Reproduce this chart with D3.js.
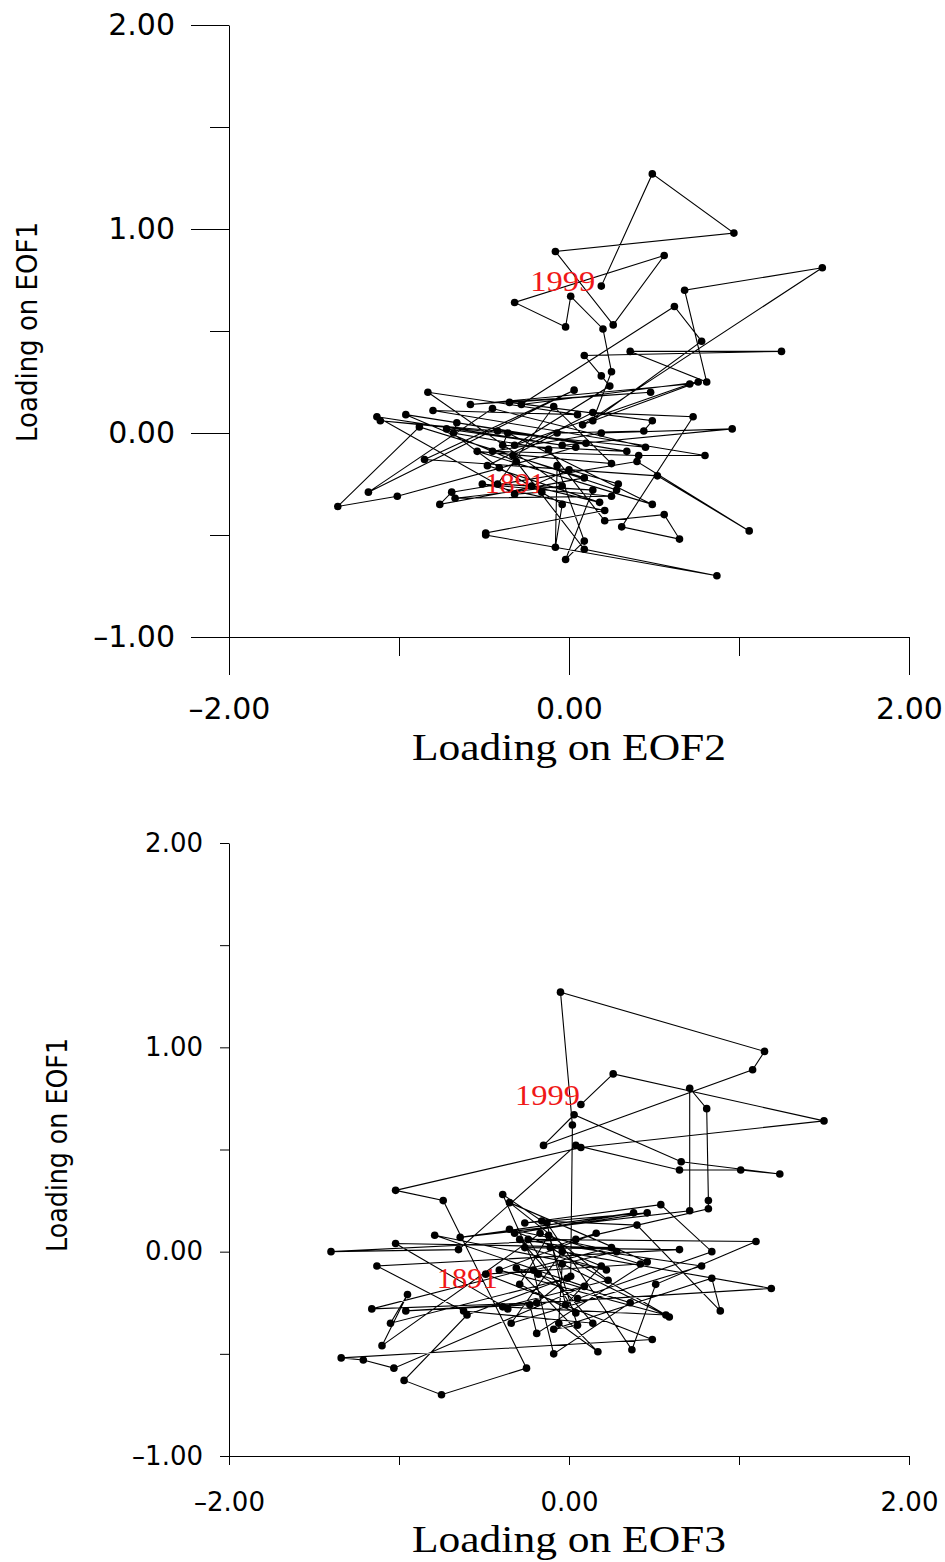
<!DOCTYPE html>
<html>
<head>
<meta charset="utf-8">
<script src="https://cdn.jsdelivr.net/npm/d3@7"></script>
<style>
  html, body { margin: 0; padding: 0; background: #fff; }
  svg { display: block; }
</style>
</head>
<body>
<svg id="chart" width="945" height="1562"></svg>
<script>
// ---------- DATA (in trajectory order 1891 -> 1999) ----------
const years = ["1891", "1999"];

// Panel 1: loading on EOF2 (x) vs loading on EOF1 (y)
const panel1EOF2 = [
  -0.16, -0.32, -1.13, 0.04, -1.01, -1.36, -0.88, 0.09, -0.76, -0.69,
  0.40, 1.06, 0.52, -0.85, 0.03, -1.18, -0.45, 0.45, -1.11, -0.42,
  0.10, -0.96, -0.31, 0.09, 0.87, -0.49, -0.49, 0.21, -0.51, 0.25,
  -0.67, -0.04, -0.83, 0.05, -0.80, 0.80, 0.41, -0.45, 0.19, 0.96,
  -0.04, -0.72, -0.41, -0.04, -0.08, -0.07, 0.09, -0.02, 0.14, -0.42,
  -0.09, 0.25, -0.54, 0.49, -0.36, -0.39, 0.34, -0.66, -0.68, -0.12,
  0.21, 0.56, 0.65, 0.31, 0.73, 0.14, -0.48, 0.18, -0.22, 0.00,
  0.29, 0.28, -0.33, -0.07, 0.44, 0.49, -0.35, 0.48, -0.58, 0.71,
  -0.32, 0.24, 0.19, 0.09, 1.25, 0.36, 0.81, 0.68, 1.49, 0.08,
  0.76, -0.28, 0.62, 0.78, 0.14, 0.25, 0.20, 0.01, -0.02, -0.32,
  0.56, 0.26, -0.08, 0.97, 0.49, 0.19
];
const panel1EOF1 = [
  -0.29, -0.30, 0.08, -0.07, -0.31, -0.36, 0.03, -0.22, -0.35, -0.29,
  -0.14, -0.48, -0.21, -0.13, 0.21, -0.29, 0.12, -0.07, 0.06, 0.01,
  -0.05, 0.09, -0.14, -0.57, -0.70, -0.50, -0.49, -0.38, -0.25, -0.31,
  -0.32, -0.26, 0.20, 0.09, 0.11, -0.11, -0.11, -0.09, 0.00, 0.02,
  -0.06, 0.02, -0.17, -0.35, -0.56, -0.16, -0.53, -0.62, -0.28, -0.25,
  0.13, -0.15, -0.09, -0.35, 0.00, -0.06, -0.09, 0.05, 0.00, -0.08,
  -0.43, -0.40, -0.52, -0.46, 0.08, 0.10, -0.16, -0.34, -0.26, -0.18,
  -0.25, -0.28, -0.11, 0.00, 0.01, 0.06, 0.15, 0.20, 0.14, 0.24,
  -0.06, 0.23, 0.28, 0.38, 0.40, 0.40, 0.25, 0.70, 0.81, 0.04,
  0.25, 0.14, 0.62, 0.45, 0.06, 0.30, 0.51, 0.67, 0.52, 0.64,
  0.87, 0.53, 0.89, 0.98, 1.27, 0.72
];

// Panel 2: loading on EOF3 (x) vs loading on EOF1 (y)
const panel2EOF3 = [
  -0.36, -1.02, 0.25, -1.16, -0.19, -0.01, -1.05, -0.95, -1.10, -0.17,
  0.42, -0.49, 0.49, -1.34, -1.21, -1.03, 0.09, -0.79, 0.22, -0.26,
  0.65, -1.13, -0.62, 0.14, -0.29, 0.78, -0.34, -0.04, 1.19, -0.96,
  -0.23, -0.19, 0.46, -0.35, 0.23, -0.39, 0.57, -0.41, 0.16, -0.11,
  0.59, -0.04, -0.06, 0.17, -0.31, 0.36, -0.09, -0.21, 0.28, -0.35,
  0.19, -0.02, -0.13, 0.37, 0.51, 1.10, -0.24, 0.04, -0.29, -0.12,
  0.05, -0.09, 0.84, 0.89, 0.40, -0.16, -0.39, -0.18, 0.05, 0.84,
  0.54, -0.26, 0.46, -0.32, 0.38, -0.64, 0.71, 0.71, 0.81, 0.82,
  0.82, 0.04, -1.40, -0.65, 0.04, 0.65, 1.01, 1.24, 0.66, 0.03,
  -0.15, 1.08, 1.15, -0.05, 0.02, 0.01, -0.60, -0.97, -0.75, -0.25,
  -0.74, -1.02, 0.07, 1.50, 0.26, 0.07
];
const panel2EOF1 = [
  -0.28, 0.04, 0.02, -0.28, -0.25, -0.13, -0.35, -0.21, -0.46, 0.09,
  -0.06, -0.11, -0.43, -0.52, -0.53, -0.57, -0.17, 0.08, -0.09, 0.02,
  0.01, -0.07, -0.29, -0.35, 0.06, -0.07, -0.35, 0.00, -0.18, -0.29,
  -0.26, -0.40, -0.05, 0.24, -0.14, -0.27, -0.31, -0.09, 0.09, 0.02,
  -0.32, -0.06, -0.35, -0.49, -0.08, -0.25, -0.50, -0.09, 0.00, 0.11,
  -0.07, -0.26, 0.14, -0.48, -0.16, 0.05, 0.06, -0.30, -0.16, 0.08,
  -0.36, -0.38, -0.13, -0.29, 0.13, 0.15, 0.28, -0.11, -0.23, 0.00,
  0.23, 0.14, 0.19, 0.09, 0.19, 0.07, 0.20, 0.80, 0.70, 0.25,
  0.21, 0.06, 0.00, 0.01, 0.52, 0.40, 0.40, 0.38, 0.44, 0.67,
  0.52, 0.89, 0.98, 1.27, 0.62, -0.12, -0.31, -0.63, -0.70, -0.57,
  0.25, 0.30, 0.51, 0.64, 0.87, 0.72
];

// Axis ticks
const xMajorTicks = [-2, 0, 2];
const xMinorTicks = [-1, 1];
const yMajorTicks = [-1, 0, 1, 2];
const yMinorTicks = [-0.5, 0.5, 1.5];
const xDomain = [-2, 2];
const yDomain = [-1, 2];

// ---------- LAYOUT / STYLE ----------
const panels = [
  {
    xs: panel1EOF2, ys: panel1EOF1,
    xRange: [229, 909], yRange: [637, 25],
    majorLen: 38, minorLen: 19,
    tickFont: 30, yPad: 16, xPad: 23,
    xTitle: "Loading on EOF2", xTitleY: 760, xTitleLen: 314,
    yTitleX: 37, yTitleY: 332, yTitleLen: 220,
    labelOffsets: [[3, 1, 60], [-6, 5, 65]]
  },
  {
    xs: panel2EOF3, ys: panel2EOF1,
    xRange: [229, 909], yRange: [1456, 843],
    majorLen: 9, minorLen: 9,
    tickFont: 26, yPad: 17, xPad: 28,
    xTitle: "Loading on EOF3", xTitleY: 1552, xTitleLen: 314,
    yTitleX: 67, yTitleY: 1145, yTitleLen: 214,
    labelOffsets: [[-10, -21, 61], [-1, 0, 65]]
  }
];

const svg = d3.select("#chart");
svg.append("rect").attr("width", 945).attr("height", 1562).attr("fill", "#fff");

const fmt = d => (d < 0 ? "\u2013" : "") + Math.abs(d).toFixed(2);

panels.forEach(p => {
  const x = d3.scaleLinear().domain(xDomain).range(p.xRange);
  const y = d3.scaleLinear().domain(yDomain).range(p.yRange);
  const g = svg.append("g");

  // Minor ticks (no labels)
  g.append("g")
    .attr("transform", `translate(0,${p.yRange[0]})`)
    .call(d3.axisBottom(x).tickValues(xMinorTicks).tickSize(p.minorLen).tickSizeOuter(0).tickFormat(""))
    .call(a => a.select(".domain").remove());
  g.append("g")
    .attr("transform", `translate(${p.xRange[0]},0)`)
    .call(d3.axisLeft(y).tickValues(yMinorTicks).tickSize(p.minorLen).tickSizeOuter(0).tickFormat(""))
    .call(a => a.select(".domain").remove());

  // Major ticks with labels
  const xAx = g.append("g")
    .attr("transform", `translate(0,${p.yRange[0]})`)
    .call(d3.axisBottom(x).tickValues(xMajorTicks).tickSize(p.majorLen).tickSizeOuter(0)
      .tickPadding(p.xPad).tickFormat(fmt));
  const yAx = g.append("g")
    .attr("transform", `translate(${p.xRange[0]},0)`)
    .call(d3.axisLeft(y).tickValues(yMajorTicks).tickSize(p.majorLen).tickSizeOuter(0)
      .tickPadding(p.yPad).tickFormat(fmt));

  [xAx, yAx].forEach(a => {
    a.selectAll("text")
      .attr("font-family", "'DejaVu Sans', sans-serif")
      .attr("font-size", p.tickFont)
      .attr("fill", "#000");
    a.selectAll("line").attr("stroke", "#000").attr("stroke-width", 1);
    a.select(".domain").attr("stroke", "#000").attr("stroke-width", 1);
  });

  // Axis titles
  g.append("text")
    .attr("x", (p.xRange[0] + p.xRange[1]) / 2)
    .attr("y", p.xTitleY)
    .attr("text-anchor", "middle")
    .attr("font-family", "'Liberation Serif', 'Times New Roman', serif")
    .attr("font-size", 38)
    .attr("textLength", p.xTitleLen)
    .attr("lengthAdjust", "spacingAndGlyphs")
    .attr("fill", "#000")
    .text(p.xTitle);

  g.append("text")
    .attr("transform", `translate(${p.yTitleX},${p.yTitleY}) rotate(-90)`)
    .attr("text-anchor", "middle")
    .attr("font-family", "'DejaVu Sans', sans-serif")
    .attr("font-size", 29)
    .attr("textLength", p.yTitleLen)
    .attr("lengthAdjust", "spacingAndGlyphs")
    .attr("fill", "#000")
    .text("Loading on EOF1");

  // Trajectory
  const pts = p.xs.map((v, i) => [v, p.ys[i]]);
  const line = d3.line().x(d => x(d[0])).y(d => y(d[1]));
  g.append("path")
    .datum(pts)
    .attr("d", line)
    .attr("fill", "none")
    .attr("stroke", "#000")
    .attr("stroke-width", 1.1);

  // Year labels (first and last points)
  const ends = [pts[0], pts[pts.length - 1]];
  ends.forEach((d, i) => {
    const off = p.labelOffsets[i];
    g.append("text")
      .attr("x", x(d[0]) + off[0])
      .attr("y", y(d[1]) + off[1])
      .attr("text-anchor", "end")
      .attr("font-family", "'Liberation Serif', 'Times New Roman', serif")
      .attr("font-size", 29)
      .attr("textLength", off[2])
      .attr("lengthAdjust", "spacingAndGlyphs")
      .attr("fill", "#f01818")
      .text(years[i]);
  });

  // Points
  g.append("g").selectAll("circle")
    .data(pts)
    .join("circle")
    .attr("cx", d => x(d[0]))
    .attr("cy", d => y(d[1]))
    .attr("r", 3.8)
    .attr("fill", "#000");
});
</script>
</body>
</html>
